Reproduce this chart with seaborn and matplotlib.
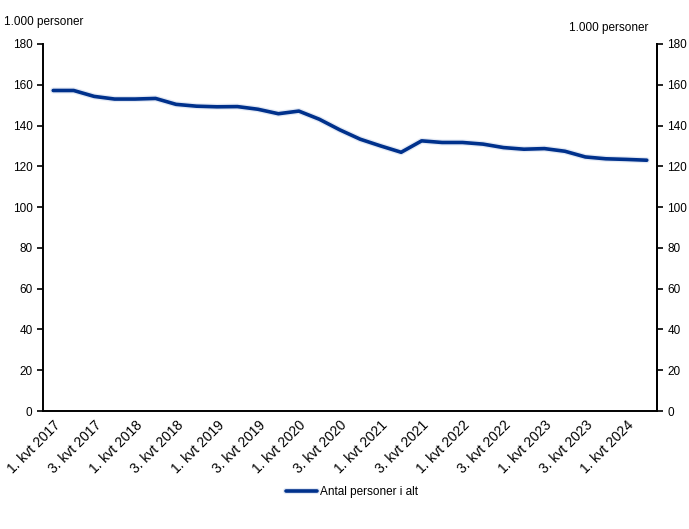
import numpy as np
import pandas as pd
import matplotlib
matplotlib.use('Agg')
import matplotlib.pyplot as plt
import matplotlib.patheffects as pe
import seaborn as sns

# Quarterly values, 1. kvt 2017 - 2. kvt 2024 (1.000 personer)
years = [2017, 2018, 2019, 2020, 2021, 2022, 2023, 2024]
quarters = [f'{q}. kvt {y}' for y in years for q in range(1, 5)][:30]
values = [157.2, 157.2, 154.3, 153.0, 153.0, 153.3, 150.4, 149.5, 149.2, 149.3,
          148.0, 145.8, 147.1, 143.1, 137.9, 133.3, 130.0, 126.9, 132.5, 131.7,
          131.7, 130.9, 129.2, 128.4, 128.7, 127.4, 124.6, 123.7, 123.4, 123.0]

df = pd.DataFrame({'Kvartal': quarters, 'Antal personer i alt': values})
df['pos'] = np.arange(len(df))

sns.set_style('white', {'text.color': 'black', 'axes.labelcolor': 'black',
                        'xtick.color': 'black', 'ytick.color': 'black',
                        'axes.edgecolor': 'black'})
plt.rcParams['font.family'] = ['Liberation Sans', 'DejaVu Sans']
plt.rcParams['font.size'] = 8.5

fig = plt.figure(figsize=(6.89, 5.29), dpi=100)
ax = fig.add_axes([43 / 689, 1 - 411 / 529, (657 - 43) / 689, (411 - 44) / 529])

line_color = '#00318c'
sns.lineplot(data=df, x='pos', y='Antal personer i alt', ax=ax, color=line_color,
             linewidth=2.6, label='Antal personer i alt', legend=False,
             path_effects=[pe.Stroke(linewidth=4.4, foreground='#e3e9f4'), pe.Normal()])

n = len(df)
ax.set_xlim(-0.5, n - 0.5)
ax.set_ylim(0, 180)
ax.set_yticks(range(0, 181, 20))
ax.set_xticks(np.arange(-0.5, n, 1.0))
ax.set_xticklabels([])
ax.set_xticks(df['pos'][::2], minor=True)
ax.set_xticklabels(df['Kvartal'][::2], minor=True, rotation=45, ha='right',
                   rotation_mode='anchor', fontsize=10)
ax.tick_params(axis='x', which='minor', length=0, pad=5)
ax.tick_params(axis='x', which='major', length=4, width=1.2, direction='out')
ax.tick_params(axis='y', length=4, width=1.2, direction='out', labelsize=8.5)
ax.set_xlabel('')
ax.set_ylabel('')

ax.spines['top'].set_visible(False)
for side in ['left', 'right', 'bottom']:
    ax.spines[side].set_linewidth(1.4)

ax2 = ax.twinx()
ax2.set_ylim(0, 180)
ax2.set_yticks(range(0, 181, 20))
ax2.tick_params(axis='y', length=4, width=1.2, direction='out', labelsize=8.5)
for side in ['top', 'left', 'bottom']:
    ax2.spines[side].set_visible(False)
ax2.spines['right'].set_linewidth(1.4)

fig.text(4 / 689, 1 - 22 / 529, '1.000 personer', ha='left', va='center', fontsize=8.5)
fig.text(648 / 689, 1 - 28 / 529, '1.000 personer', ha='right', va='center', fontsize=8.5)

handles, labels = ax.get_legend_handles_labels()
fig.legend(handles, labels, loc='center', bbox_to_anchor=(352 / 689, 1 - 492 / 529),
           frameon=False, fontsize=8.5, handlelength=2.6, handletextpad=0.2)

fig.savefig('out.png', dpi=100)
